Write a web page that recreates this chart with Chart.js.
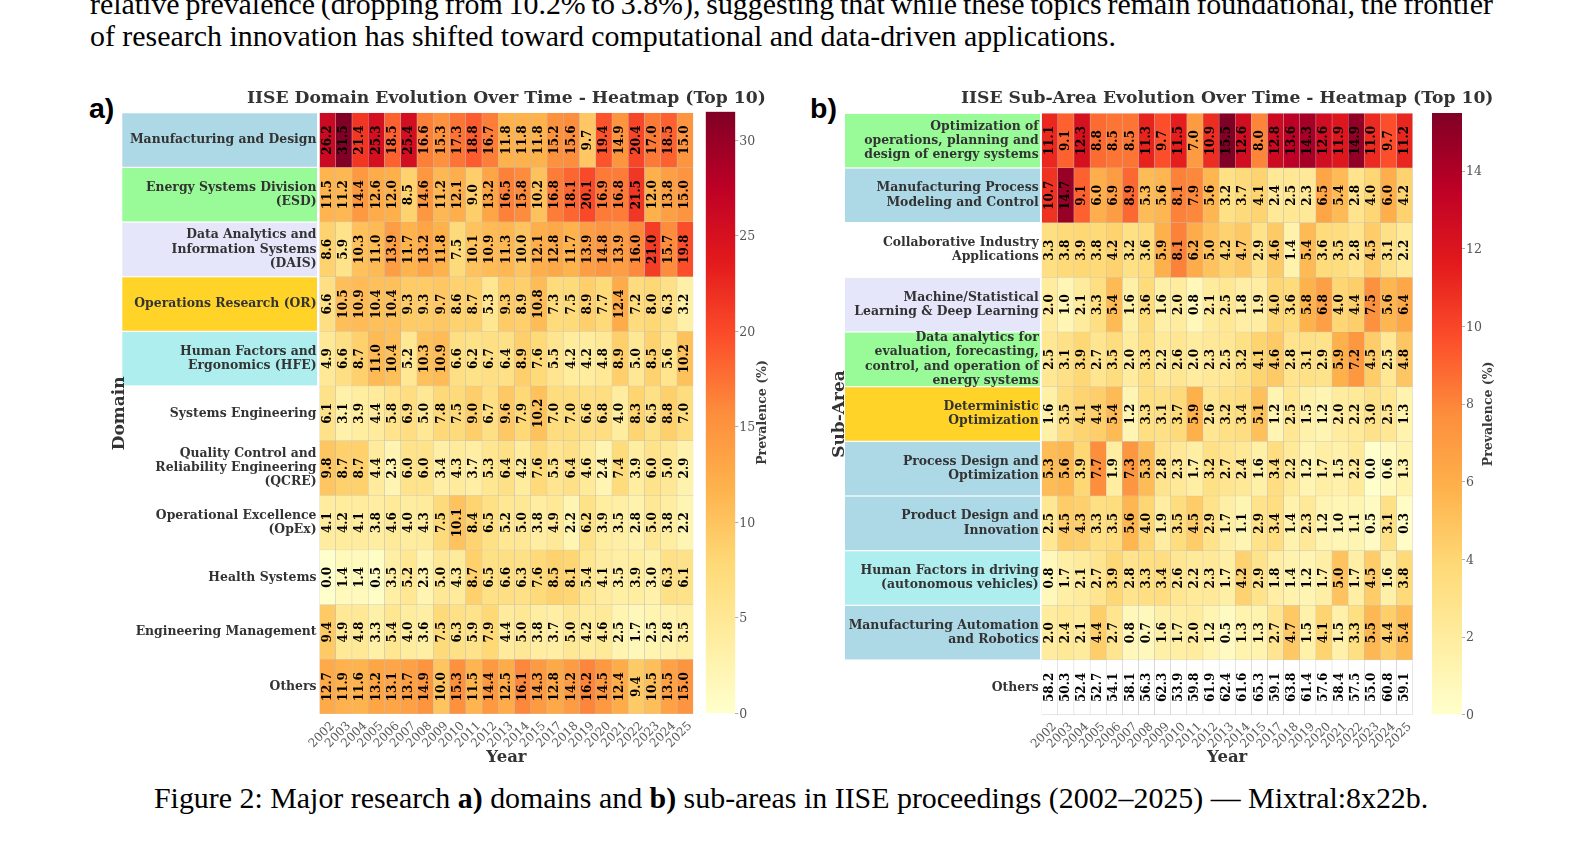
<!DOCTYPE html>
<html>
<head>
<meta charset="utf-8">
<title>IISE heatmaps</title>
<script src="https://cdn.jsdelivr.net/npm/chart.js@4/dist/chart.umd.js"></script>
<style>
  html, body { margin: 0; background: #fff; }
  body { position: relative; width: 1584px; height: 854px; overflow: hidden; }
  canvas { position: absolute; }
  .line { position: absolute; white-space: nowrap; font-family: "Liberation Serif", serif; font-size: 29.9px; line-height: 32px; color: #000; }
  .tag { position: absolute; font-family: "Liberation Sans", sans-serif; font-weight: bold; font-size: 28.5px; line-height: 32px; color: #000; }
</style>
</head>
<body>
<div class="line" style="left:90px;top:-12px;word-spacing:-1.6px">relative prevalence (dropping from 10.2% to 3.8%), suggesting that while these topics remain foundational, the frontier</div>
<div class="line" style="left:90px;top:20px">of research innovation has shifted toward computational and data-driven applications.</div>
<div class="tag" style="left:89px;top:92px">a)</div>
<div class="tag" style="left:810px;top:92px">b)</div>
<canvas id="domain-heatmap" width="680" height="689" style="left:105px;top:85px"></canvas>
<canvas id="subarea-heatmap" width="680" height="689" style="left:825px;top:85px"></canvas>
<canvas id="domain-colorbar" width="80" height="625" style="left:700px;top:100px"></canvas>
<canvas id="subarea-colorbar" width="80" height="625" style="left:1426px;top:100px"></canvas>
<div class="line" style="left:154px;top:782px">Figure 2: Major research <b>a)</b> domains and <b>b)</b> sub-areas in IISE proceedings (2002–2025) — Mixtral:8x22b.</div>

<script>
const years = ['2002','2003','2004','2005','2006','2007','2008','2009','2010','2011','2012','2013','2014','2015','2017','2018','2019','2020','2021','2022','2023','2024','2025'];

const domainLabels = [
  ['Manufacturing and Design'],
  ['Energy Systems Division', '(ESD)'],
  ['Data Analytics and', 'Information Systems', '(DAIS)'],
  ['Operations Research (OR)'],
  ['Human Factors and', 'Ergonomics (HFE)'],
  ['Systems Engineering'],
  ['Quality Control and', 'Reliability Engineering', '(QCRE)'],
  ['Operational Excellence', '(OpEx)'],
  ['Health Systems'],
  ['Engineering Management'],
  ['Others']
];

const domainValues = [
  [26.2,31.5,21.4,25.3,18.5,25.4,16.6,15.3,17.3,18.8,16.7,11.8,11.8,11.8,15.2,15.6,9.7,19.4,14.9,20.4,17.0,18.5,15.0],
  [11.5,11.2,14.4,12.6,12.0,8.5,14.6,11.2,12.1,9.0,13.2,16.5,15.8,10.2,16.8,18.1,20.1,16.9,16.8,21.5,12.0,13.8,15.0],
  [8.6,5.9,10.3,11.0,13.9,11.7,13.2,11.8,7.5,10.1,10.9,11.3,10.0,12.1,12.8,11.7,13.9,14.8,13.9,16.0,21.0,15.7,19.8],
  [6.6,10.5,10.9,10.4,10.4,9.3,9.3,9.7,8.6,8.7,5.3,9.3,8.9,10.8,7.3,7.5,8.9,7.7,12.4,7.2,8.0,6.3,3.2],
  [4.9,6.6,8.7,11.0,10.4,5.2,10.3,10.9,6.6,6.2,6.7,6.4,8.9,7.6,5.5,4.2,4.2,4.8,8.9,5.0,8.5,5.6,10.2],
  [6.1,3.1,3.9,4.4,5.8,6.9,5.0,7.8,7.5,9.0,6.7,9.6,7.9,10.2,7.0,7.0,6.6,6.8,4.0,8.3,6.5,8.8,7.0],
  [9.8,8.7,8.7,4.4,2.3,6.0,6.0,3.4,4.3,3.7,5.3,6.4,4.2,7.6,5.5,6.4,4.6,2.4,7.4,3.9,6.0,5.0,2.9],
  [4.1,4.2,4.1,3.8,4.6,4.0,4.3,7.5,10.1,8.4,6.5,5.2,5.0,3.8,4.9,2.2,6.2,3.9,3.5,2.8,5.0,3.8,2.2],
  [0.0,1.4,1.4,0.5,3.5,5.2,2.3,5.0,4.3,8.7,6.5,6.6,6.3,7.6,8.5,8.1,5.4,4.1,3.5,3.9,3.0,6.3,6.1],
  [9.4,4.9,4.8,3.3,5.4,4.0,3.6,7.5,6.3,5.9,7.9,4.4,5.0,3.8,3.7,5.0,4.2,4.6,2.5,1.7,2.5,2.8,3.5],
  [12.7,11.9,11.6,13.2,13.1,13.7,14.9,10.0,15.3,11.5,14.4,12.5,16.1,14.3,12.8,14.2,16.2,14.5,12.4,9.4,10.5,13.5,15.0]
];

const subAreaLabels = [
  ['Optimization of', 'operations, planning and', 'design of energy systems'],
  ['Manufacturing Process', 'Modeling and Control'],
  ['Collaborative Industry', 'Applications'],
  ['Machine/Statistical', 'Learning & Deep Learning'],
  ['Data analytics for', 'evaluation, forecasting,', 'control, and operation of', 'energy systems'],
  ['Deterministic', 'Optimization'],
  ['Process Design and', 'Optimization'],
  ['Product Design and', 'Innovation'],
  ['Human Factors in driving', '(autonomous vehicles)'],
  ['Manufacturing Automation', 'and Robotics'],
  ['Others']
];

const subAreaValues = [
  [11.1,9.1,12.3,8.8,8.5,8.5,11.3,9.7,11.5,7.0,10.9,15.5,12.6,8.0,12.8,13.6,14.3,12.6,11.9,14.9,11.0,9.7,11.2],
  [10.7,14.7,9.1,6.0,6.9,8.9,5.3,5.6,8.1,7.9,5.6,3.2,3.7,4.1,2.4,2.5,2.3,6.5,5.4,2.8,4.0,6.0,4.2],
  [3.3,3.8,3.9,3.8,4.2,3.2,3.6,5.9,8.1,6.2,5.0,4.2,4.7,2.9,4.6,1.4,5.4,3.6,3.5,2.8,4.5,3.1,2.2],
  [2.0,1.0,2.1,3.3,5.4,1.6,3.6,1.6,2.0,0.8,2.1,2.5,1.8,1.9,4.0,3.6,5.8,6.8,4.0,4.4,7.5,5.6,6.4],
  [2.5,3.1,3.9,2.7,3.5,2.0,3.3,2.2,2.6,2.0,2.3,2.5,3.2,4.1,4.6,2.8,3.1,2.9,5.9,7.2,4.5,2.5,4.8],
  [1.6,3.5,4.1,4.4,5.4,1.2,3.3,3.1,3.7,5.9,2.6,3.2,3.4,5.1,1.2,2.5,1.5,1.2,2.0,2.2,3.0,2.5,1.3],
  [5.3,5.6,3.9,7.7,1.9,7.3,5.3,2.8,2.3,1.7,3.2,2.7,2.4,1.6,3.4,2.2,1.2,1.7,1.5,2.2,0.0,0.6,1.3],
  [2.5,4.5,4.3,3.3,3.5,5.6,4.0,1.9,3.5,4.5,2.9,1.7,1.1,2.9,3.4,1.4,2.3,1.2,1.0,1.1,0.5,3.1,0.3],
  [0.8,1.7,2.1,2.7,3.9,2.8,3.3,3.4,2.6,2.2,2.3,1.7,4.2,2.9,1.8,1.4,1.2,1.7,5.0,1.7,4.5,1.6,3.8],
  [2.0,2.4,2.1,4.4,2.7,0.8,0.7,1.6,1.7,2.0,1.2,0.5,1.3,1.3,2.7,4.7,1.5,4.1,1.5,3.3,5.5,4.4,5.4],
  [58.2,50.3,52.4,52.7,54.1,58.1,56.3,62.3,53.9,59.8,61.9,62.4,61.6,65.3,59.1,63.8,61.4,57.6,58.4,57.5,55.0,60.8,59.1]
];

const domainMax = 31.5;
const subAreaMax = 15.5;

// Row label highlight colours, one per row (null = no highlight)
const BLUE = '#add8e6', GREEN = '#98fb98', LAVENDER = '#e6e6fa', GOLD = '#ffd327', TURQUOISE = '#afeeee';
const domainRowColors = [BLUE, GREEN, LAVENDER, GOLD, TURQUOISE, null, null, null, null, null, null];
const subAreaRowColors = [GREEN, BLUE, null, LAVENDER, GREEN, GOLD, BLUE, BLUE, TURQUOISE, BLUE, null];

// YlOrRd stops
const ylOrRd = ['#ffffcc','#ffeda0','#fed976','#feb24c','#fd8d3c','#fc4e2a','#e31a1c','#bd0026','#800026'];

const SERIF = '"DejaVu Serif", serif';
Chart.defaults.font.family = SERIF;

function hexToRgb(hex) {
  return [1, 3, 5].map(i => parseInt(hex.slice(i, i + 2), 16));
}

// Map a value to the colormap; anything above the scale max stays white
function colorFor(value, max) {
  if (value > max) return '#ffffff';
  const t = (value / max) * (ylOrRd.length - 1);
  const i = Math.min(Math.floor(t), ylOrRd.length - 2);
  const a = hexToRgb(ylOrRd[i]);
  const b = hexToRgb(ylOrRd[i + 1]);
  const f = t - i;
  const c = a.map((v, k) => Math.round(v + (b[k] - v) * f));
  return `rgb(${c[0]}, ${c[1]}, ${c[2]})`;
}

function drawHeatmap(canvasId, title, yTitle, labels, values, rowColors, max, geo) {
  // Coloured backgrounds behind the row labels
  const rowBoxes = {
    id: 'rowBoxes',
    beforeDraw(chart) {
      const { ctx, chartArea } = chart;
      const y = chart.scales.y;
      rowColors.forEach((color, i) => {
        if (!color) return;
        const top = y.getPixelForValue(i);
        const bottom = y.getPixelForValue(i + 1);
        ctx.fillStyle = color;
        ctx.fillRect(chartArea.left - geo.boxGap - geo.boxWidth, top + 0.6, geo.boxWidth, bottom - top - 1.2);
      });
    }
  };

  // Rotated value text in each cell
  const cellValues = {
    id: 'cellValues',
    afterDatasetsDraw(chart) {
      const { ctx } = chart;
      ctx.save();
      ctx.font = `bold 12px ${SERIF}`;
      ctx.fillStyle = '#000';
      ctx.textAlign = 'center';
      ctx.textBaseline = 'middle';
      values.forEach((row, r) => {
        chart.getDatasetMeta(r).data.forEach((bar, c) => {
          const p = bar.getCenterPoint();
          ctx.save();
          ctx.translate(p.x, p.y);
          ctx.rotate(-Math.PI / 2);
          ctx.fillText(row[c].toFixed(1), 0, 0);
          ctx.restore();
        });
      });
      ctx.restore();
    }
  };

  // Title centred over the cells; it is wider than the plot, so the stock title would squeeze it
  const plotTitle = {
    id: 'plotTitle',
    afterDraw(chart) {
      const { ctx, chartArea } = chart;
      ctx.save();
      ctx.font = `bold 17.2px ${SERIF}`;
      ctx.fillStyle = '#333';
      ctx.textAlign = 'center';
      ctx.textBaseline = 'middle';
      ctx.fillText(title, (chartArea.left + chartArea.right) / 2, geo.titleY);
      ctx.restore();
    }
  };

  return new Chart(document.getElementById(canvasId), {
    type: 'bar',
    data: {
      labels: years,
      datasets: values.map((row, r) => ({
        data: row.map(() => [r, r + 1]),
        backgroundColor: row.map(v => colorFor(v, max)),
        borderColor: 'rgba(165, 165, 165, 0.6)',
        borderWidth: 0.5,
        grouped: false,
        categoryPercentage: 1,
        barPercentage: 1
      }))
    },
    options: {
      responsive: false,
      animation: false,
      layout: { padding: { top: geo.plotTop, right: geo.paddingRight } },
      plugins: {
        legend: { display: false },
        tooltip: { enabled: false }
      },
      scales: {
        x: {
          grid: { display: false, drawTicks: false },
          border: { display: false },
          ticks: {
            autoSkip: false,
            minRotation: 45,
            maxRotation: 45,
            labelOffset: 5,
            padding: 5,
            color: '#5a5a5a',
            font: { size: 12 }
          },
          title: {
            display: true,
            text: 'Year',
            color: '#333',
            font: { size: 16.5, weight: 'bold' },
            padding: { top: 0, bottom: 6 }
          },
          afterFit: scale => { scale.height = geo.xAxisHeight; }
        },
        y: {
          min: 0,
          max: values.length,
          reverse: true,
          grid: { display: false, drawTicks: false },
          border: { display: false },
          afterBuildTicks: scale => {
            scale.ticks = labels.map((l, i) => ({ value: i + 0.5 }));
          },
          ticks: {
            autoSkip: false,
            padding: 3,
            color: '#333',
            font: { size: 12.4, weight: 'bold', lineHeight: 1.15 },
            callback: v => labels[Math.floor(v)]
          },
          title: {
            display: true,
            text: yTitle,
            color: '#333',
            font: { size: 17, weight: 'bold' },
            padding: { top: 4.6, bottom: 0 }
          },
          afterFit: scale => { scale.width = geo.yAxisWidth; }
        }
      }
    },
    plugins: [rowBoxes, cellValues, plotTitle]
  });
}

function drawColorbar(canvasId, max, step, geo) {
  // Axis title reads bottom to top, which the built-in right axis title can't do
  const barTitle = {
    id: 'barTitle',
    afterDraw(chart) {
      const { ctx, chartArea } = chart;
      ctx.save();
      ctx.translate(geo.titleX, (chartArea.top + chartArea.bottom) / 2);
      ctx.rotate(-Math.PI / 2);
      ctx.font = `bold 12.5px ${SERIF}`;
      ctx.fillStyle = '#3a3a3a';
      ctx.textAlign = 'center';
      ctx.textBaseline = 'middle';
      ctx.fillText('Prevalence (%)', 0, 0);
      ctx.restore();
    }
  };

  return new Chart(document.getElementById(canvasId), {
    type: 'bar',
    data: {
      labels: ['Prevalence'],
      datasets: [{
        data: [[0, max]],
        categoryPercentage: 1,
        barPercentage: 1,
        backgroundColor: ctx => {
          const area = ctx.chart.chartArea;
          if (!area) return ylOrRd[4];
          const gradient = ctx.chart.ctx.createLinearGradient(0, area.bottom, 0, area.top);
          ylOrRd.forEach((c, i) => gradient.addColorStop(i / (ylOrRd.length - 1), c));
          return gradient;
        }
      }]
    },
    options: {
      responsive: false,
      animation: false,
      layout: { padding: { left: geo.left, top: geo.top, bottom: geo.bottom } },
      plugins: { legend: { display: false }, tooltip: { enabled: false } },
      scales: {
        x: { display: false },
        y: {
          position: 'right',
          min: 0,
          max: max,
          border: { display: false },
          grid: { drawOnChartArea: false, tickLength: 3, tickColor: '#999', tickWidth: 0.8 },
          ticks: {
            stepSize: step,
            includeBounds: false,
            padding: 1,
            labelOffset: 1,
            color: '#555',
            font: { size: 12.5 }
          },
          afterFit: scale => { scale.width = geo.axisWidth; }
        }
      }
    },
    plugins: [barTitle]
  });
}

drawHeatmap('domain-heatmap', 'IISE Domain Evolution Over Time - Heatmap (Top 10)', 'Domain',
  domainLabels, domainValues, domainRowColors, domainMax, {
    yAxisWidth: 214.5, xAxisHeight: 60, plotTop: 27.7, paddingRight: 91.7,
    titleY: 13.5, boxGap: 2.5, boxWidth: 194.7
  });
drawColorbar('domain-colorbar', domainMax, 5, { left: 5.7, top: 11.7, bottom: 11.7, axisWidth: 44.7, titleX: 63 });

drawHeatmap('subarea-heatmap', 'IISE Sub-Area Evolution Over Time - Heatmap (Top 10)', 'Sub-Area',
  subAreaLabels, subAreaValues, subAreaRowColors, subAreaMax, {
    yAxisWidth: 216.7, xAxisHeight: 59.3, plotTop: 28.3, paddingRight: 92.3,
    titleY: 14, boxGap: 1.7, boxWidth: 195
  });
drawColorbar('subarea-colorbar', subAreaMax, 2, { left: 6, top: 13, bottom: 10.3, axisWidth: 44, titleX: 62.5 });
</script>
</body>
</html>
